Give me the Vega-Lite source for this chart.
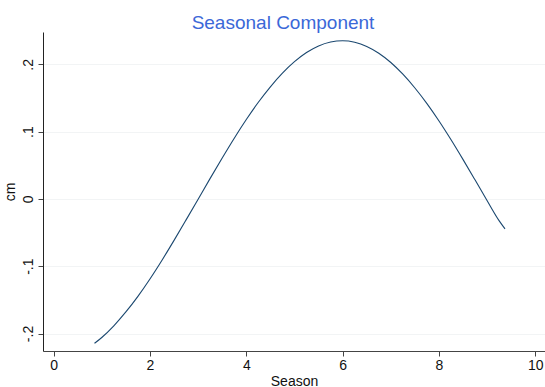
{
  "$schema": "https://vega.github.io/schema/vega-lite/v6.json",
  "autosize": "none",
  "width": 502,
  "height": 319,
  "padding": {"left": 43, "top": 32, "right": 0, "bottom": 36},
  "background": "white",
  "config": {
    "font": "Liberation Sans",
    "view": {"stroke": null}
  },
  "title": {
    "text": "Seasonal Component",
    "fontSize": 19,
    "font": "Liberation Sans",
    "fontWeight": "normal",
    "color": "#3b68d8",
    "anchor": "middle",
    "baseline": "alphabetic",
    "offset": -16,
    "dx": -11
  },
  "data": {
    "values": [
      {"season": 0.85, "cm": -0.2146},
      {"season": 1.0, "cm": -0.2059},
      {"season": 1.25, "cm": -0.1885},
      {"season": 1.5, "cm": -0.168},
      {"season": 1.75, "cm": -0.1448},
      {"season": 2.0, "cm": -0.119},
      {"season": 2.25, "cm": -0.0911},
      {"season": 2.5, "cm": -0.0616},
      {"season": 2.75, "cm": -0.0312},
      {"season": 3.0, "cm": -0.0004},
      {"season": 3.25, "cm": 0.0305},
      {"season": 3.5, "cm": 0.0608},
      {"season": 3.75, "cm": 0.0902},
      {"season": 4.0, "cm": 0.1179},
      {"season": 4.25, "cm": 0.1436},
      {"season": 4.5, "cm": 0.1666},
      {"season": 4.75, "cm": 0.1869},
      {"season": 5.0, "cm": 0.2039},
      {"season": 5.25, "cm": 0.2175},
      {"season": 5.5, "cm": 0.2273},
      {"season": 5.75, "cm": 0.2331},
      {"season": 6.0, "cm": 0.235},
      {"season": 6.25, "cm": 0.2328},
      {"season": 6.5, "cm": 0.2266},
      {"season": 6.75, "cm": 0.2165},
      {"season": 7.0, "cm": 0.2027},
      {"season": 7.25, "cm": 0.1853},
      {"season": 7.5, "cm": 0.1648},
      {"season": 7.75, "cm": 0.1416},
      {"season": 8.0, "cm": 0.1158},
      {"season": 8.25, "cm": 0.0879},
      {"season": 8.5, "cm": 0.0584},
      {"season": 8.75, "cm": 0.028},
      {"season": 9.0, "cm": -0.0028},
      {"season": 9.25, "cm": -0.0327},
      {"season": 9.37, "cm": -0.0445}
    ]
  },
  "mark": {"type": "line", "color": "#1a476f", "strokeWidth": 1.1, "interpolate": "monotone"},
  "encoding": {
    "x": {
      "field": "season",
      "type": "quantitative",
      "scale": {"domain": [-0.22, 10.2], "nice": false, "zero": false},
      "axis": {
        "title": "Season",
        "values": [0, 2, 4, 6, 8, 10],
        "grid": false,
        "domainColor": "#444444",
        "tickColor": "#444444",
        "tickSize": 5,
        "labelFontSize": 14,
        "labelColor": "#111111",
        "labelPadding": 2,
        "labelFlush": false,
        "titleFontSize": 14,
        "titleFontWeight": "normal",
        "titleColor": "#111111",
        "titlePadding": 2
      }
    },
    "y": {
      "field": "cm",
      "type": "quantitative",
      "scale": {"domain": [-0.226, 0.248], "nice": false, "zero": false},
      "axis": {
        "title": "cm",
        "values": [-0.2, -0.1, 0, 0.1, 0.2],
        "labelExpr": "datum.value == 0 ? '0' : (datum.value < 0 ? '-' : '') + '.' + format(abs(datum.value) * 10, '.0f')",
        "labelAngle": -90,
        "labelAlign": "center",
        "labelBaseline": "bottom",
        "grid": true,
        "gridColor": "#f2f4f5",
        "gridWidth": 1,
        "domainColor": "#222222",
        "tickColor": "#444444",
        "tickSize": 5,
        "labelFontSize": 14,
        "labelColor": "#111111",
        "labelPadding": 3,
        "labelFlush": false,
        "titleFontSize": 14,
        "titleFontWeight": "normal",
        "titleColor": "#111111",
        "titlePadding": 4,
        "titleAnchor": "middle"
      }
    }
  }
}
